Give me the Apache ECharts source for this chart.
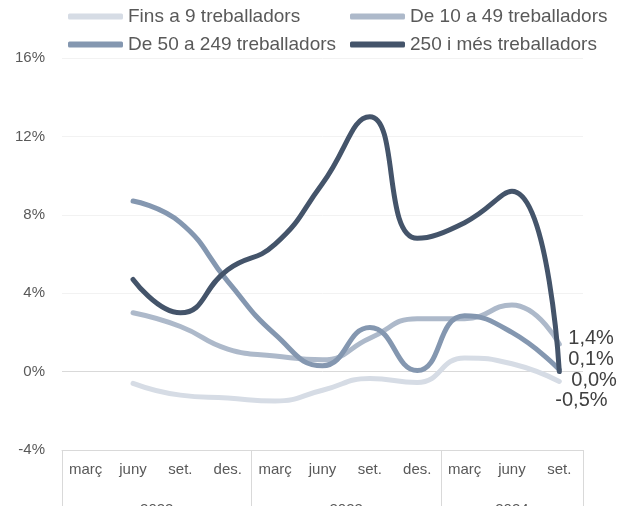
<!DOCTYPE html>
<html>
<head>
<meta charset="utf-8">
<script src="https://cdn.jsdelivr.net/npm/echarts@6/dist/echarts.min.js"></script>
<style>
  html, body { margin: 0; padding: 0; background: #fff; }
  #chart { width: 632px; height: 506px; }
</style>
</head>
<body>
<div id="chart"></div>
<script>
// data
const months = ['març', 'juny', 'set.', 'des.', 'març', 'juny', 'set.', 'des.', 'març', 'juny', 'set.']
const years = ['2022', '2023', '2024']
const yearCenters = [2, 6, 9.5]
const names = ['Fins a 9 treballadors', 'De 10 a 49 treballadors', 'De 50 a 249 treballadors', '250 i més treballadors']
const fins9 = [null, -0.6, -1.2, -1.35, -1.5, -0.95, -0.35, -0.55, 0.7, 0.4, -0.5]
const de10 = [null, 3.0, 2.3, 1.15, 0.8, 0.6, 1.7, 2.7, 2.7, 3.4, 1.4]
const de50 = [null, 8.7, 7.6, 4.6, 1.9, 0.3, 2.25, 0.05, 2.85, 2.0, 0.1]
const mes250 = [null, 4.7, 3.0, 5.2, 6.5, 9.6, 13.0, 6.8, 7.6, 9.2, 0.0]

const colors = ['#D6DCE5', '#ADB9CA', '#8497B0', '#44546A']
const labelOffsets = [[-4, 19], [9, -6], [9, -10], [12, 9]]
const font = 'Liberation Sans'

function pct(v) {
    return v.toFixed(1).replace('.', ',') + '%'
}

function makeSeries(name, data, i) {
    return {
        name: name,
        type: 'line',
        data: data,
        smooth: 0.5,
        showSymbol: false,
        connectNulls: false,
        lineStyle: {width: 5, color: colors[i], cap: 'round', join: 'round'},
        itemStyle: {color: colors[i]},
        endLabel: {
            show: true,
            distance: 0,
            offset: labelOffsets[i],
            formatter: p => pct(p.value),
            color: '#404040',
            fontSize: 20,
            fontFamily: font
        }
    }
}

let chart = echarts.init(document.getElementById('chart'))
chart.setOption({
    animation: false,
    textStyle: {fontFamily: font},
    legend: [{
        data: [names[0], names[2]],
        orient: 'vertical',
        left: 68, top: 7, padding: 0, itemGap: 9,
        icon: 'roundRect', itemWidth: 55, itemHeight: 6,
        textStyle: {color: '#595959', fontSize: 19, fontFamily: font}
    }, {
        data: [names[1], names[3]],
        orient: 'vertical',
        left: 350, top: 7, padding: 0, itemGap: 9,
        icon: 'roundRect', itemWidth: 55, itemHeight: 6,
        textStyle: {color: '#595959', fontSize: 19, fontFamily: font}
    }],
    grid: {left: 62, right: 49, top: 58, bottom: 56, outerBoundsMode: 'none', containLabel: false},
    xAxis: [{
        type: 'category',
        data: months,
        boundaryGap: true,
        axisLine: {onZero: false, lineStyle: {color: '#D9D9D9', width: 1}},
        axisTick: {show: true, length: 60, interval: i => i % 4 === 0, lineStyle: {color: '#D9D9D9'}},
        axisLabel: {interval: 0, color: '#595959', fontSize: 15, margin: 12, fontFamily: font}
    }, {
        type: 'value',
        min: 0, max: 11, interval: 0.5,
        position: 'bottom',
        axisLine: {show: false, onZero: false},
        axisTick: {show: false},
        splitLine: {show: false},
        axisLabel: {
            color: '#595959', fontSize: 15, margin: 52, fontFamily: font,
            showMinLabel: false, showMaxLabel: false,
            formatter: v => {
                let k = yearCenters.indexOf(v)
                return k >= 0 ? years[k] : ''
            }
        }
    }],
    yAxis: {
        type: 'value',
        min: -4, max: 16, interval: 4,
        axisLine: {show: false},
        axisTick: {show: false},
        axisLabel: {formatter: v => v + '%', color: '#595959', fontSize: 15, margin: 17, fontFamily: font},
        splitLine: {lineStyle: {color: ['#D9D9D9', '#D9D9D9', '#F2F2F2', '#F2F2F2', '#F2F2F2', '#F2F2F2'], width: 1}}
    },
    series: [
        makeSeries(names[0], fins9, 0),
        makeSeries(names[1], de10, 1),
        makeSeries(names[2], de50, 2),
        makeSeries(names[3], mes250, 3)
    ]
})
</script>
</body>
</html>
